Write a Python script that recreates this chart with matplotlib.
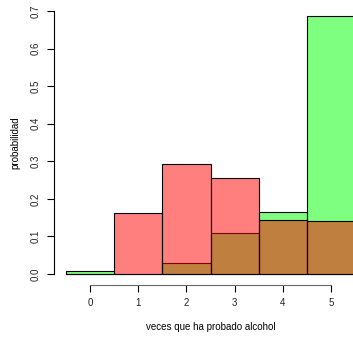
import matplotlib.pyplot as plt
import numpy as np

# veces que ha probado alcohol (0..5)
veces = [0, 1, 2, 3, 4, 5]
prob_verde = [0.007, 0.0, 0.029, 0.109, 0.166, 0.687]
prob_rojo = [0.0, 0.162, 0.293, 0.255, 0.144, 0.141]

fig = plt.figure(figsize=(3.53, 3.39), dpi=100)
W, H = 353, 339
# plot region like R: x from -0.74 to 5.74, cropped on the right
left, right, top, bottom = 54.3, 366.7, 0.5, 284.5
ax = fig.add_axes([left / W, (H - bottom) / H, (right - left) / W, (bottom - top) / H])

ax.bar(veces, prob_verde, width=1, color=(0, 1, 0, 0.5), edgecolor='black', linewidth=0.8)
ax.bar(veces, prob_rojo, width=1, color=(1, 0, 0, 0.5), edgecolor='black', linewidth=0.8)

ax.set_xlim(-0.74, 5.74)
ax.set_ylim(-0.028, 0.728)

for s in ['top', 'right']:
    ax.spines[s].set_visible(False)
ax.spines['left'].set_bounds(0, 0.7)
ax.spines['bottom'].set_bounds(0, 5)
ax.spines['left'].set_linewidth(0.8)
ax.spines['bottom'].set_linewidth(0.8)
ax.spines['bottom'].set_color('#666666')

ax.set_xticks(veces)
ax.set_yticks(np.round(np.arange(0, 0.71, 0.1), 1))
ax.set_yticklabels([f"{v:.1f}" for v in np.arange(0, 0.71, 0.1)], rotation=90, va='center')
ax.tick_params(axis='both', labelsize=7, length=5, width=0.8, pad=5, labelcolor='#222222')

ax.set_xlabel('veces que ha probado alcohol', fontsize=7, labelpad=10)
ax.set_ylabel('probabilidad', fontsize=7, labelpad=7)

for t in ax.get_xticklabels() + ax.get_yticklabels() + [ax.xaxis.label, ax.yaxis.label]:
    t.set_family(['Liberation Sans', 'DejaVu Sans'])

fig.savefig('out.png', dpi=100)
